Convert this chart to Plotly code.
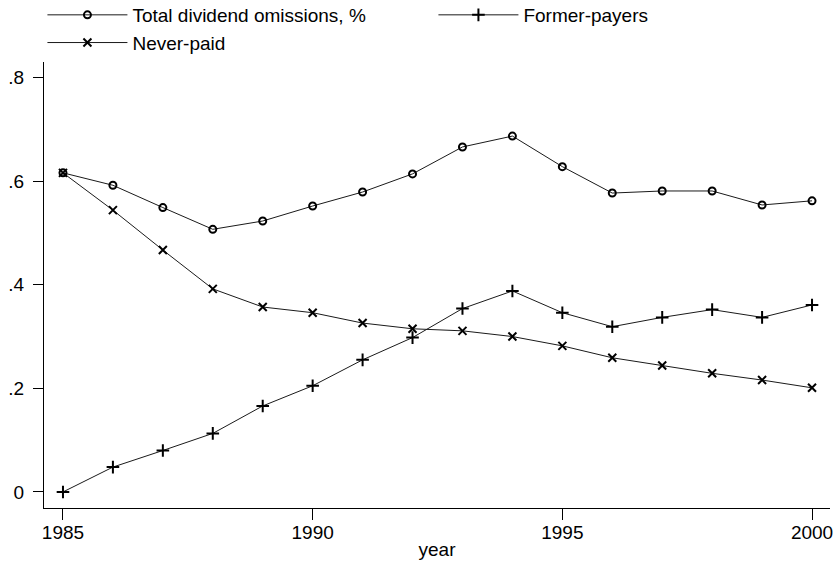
import plotly.graph_objects as go

years = list(range(1985, 2001))
total_omissions = [0.616, 0.592, 0.549, 0.507, 0.523, 0.552, 0.579, 0.614,
                   0.666, 0.687, 0.628, 0.577, 0.581, 0.581, 0.554, 0.562]
former_payers = [0.000, 0.048, 0.080, 0.113, 0.166, 0.205, 0.255, 0.298,
                 0.354, 0.388, 0.346, 0.319, 0.337, 0.352, 0.337, 0.361]
never_paid = [0.616, 0.544, 0.467, 0.392, 0.357, 0.346, 0.326, 0.315,
              0.311, 0.300, 0.282, 0.259, 0.244, 0.229, 0.216, 0.201]
y_tickvals = [0, 0.2, 0.4, 0.6, 0.8]
y_ticktext = ["0", ".2", ".4", ".6", ".8"]
x_tickvals = [1985, 1990, 1995, 2000]

FONT = "Liberation Sans, Arial, sans-serif"
LINE = dict(color="#1a1a1a", width=1)

fig = go.Figure()
fig.add_trace(go.Scatter(
    x=years, y=total_omissions, mode="lines+markers",
    name="Total dividend omissions, %", line=LINE,
    marker=dict(symbol="circle-open", size=7, color="black",
                line=dict(width=2, color="black"))))
fig.add_trace(go.Scatter(
    x=years, y=former_payers, mode="lines+markers",
    name="Former-payers", line=LINE,
    marker=dict(symbol="cross-thin-open", size=9, color="black",
                line=dict(width=2, color="black"))))
fig.add_trace(go.Scatter(
    x=years, y=never_paid, mode="lines+markers",
    name="Never-paid", line=LINE,
    marker=dict(symbol="x-thin-open", size=8, color="black",
                line=dict(width=2, color="black"))))

fig.update_layout(
    width=836, height=563,
    margin=dict(l=44, r=6, t=62, b=55, autoexpand=False),
    paper_bgcolor="white", plot_bgcolor="white",
    font=dict(family=FONT, size=19, color="black"),
    showlegend=True,
    legend=dict(
        orientation="h", x=-0.002, xanchor="left", y=1.148, yanchor="top",
        entrywidth=296, entrywidthmode="pixels", itemwidth=80,
        font=dict(family=FONT, size=19, color="black"),
        bgcolor="rgba(0,0,0,0)", tracegroupgap=0, itemsizing="trace"),
    xaxis=dict(
        range=[1984.62, 2000.36], tickvals=x_tickvals,
        showline=True, linecolor="black", linewidth=1,
        ticks="outside", ticklen=11, tickcolor="black", tickwidth=1,
        showgrid=False, zeroline=False, automargin=False,
        ticklabelstandoff=-4,
        title=dict(text="year", font=dict(family=FONT, size=19), standoff=0),
        tickfont=dict(family=FONT, size=19)),
    yaxis=dict(
        range=[-0.031, 0.830], tickvals=y_tickvals, ticktext=y_ticktext,
        showline=True, linecolor="black", linewidth=1,
        ticks="outside", ticklen=10, tickcolor="black", tickwidth=1,
        showgrid=False, zeroline=False, automargin=False,
        ticklabelstandoff=5,
        tickfont=dict(family=FONT, size=19)),
)

fig.write_html("out.html", config={"displayModeBar": False},
               post_script="document.body.style.margin='0';document.body.style.padding='0';")
